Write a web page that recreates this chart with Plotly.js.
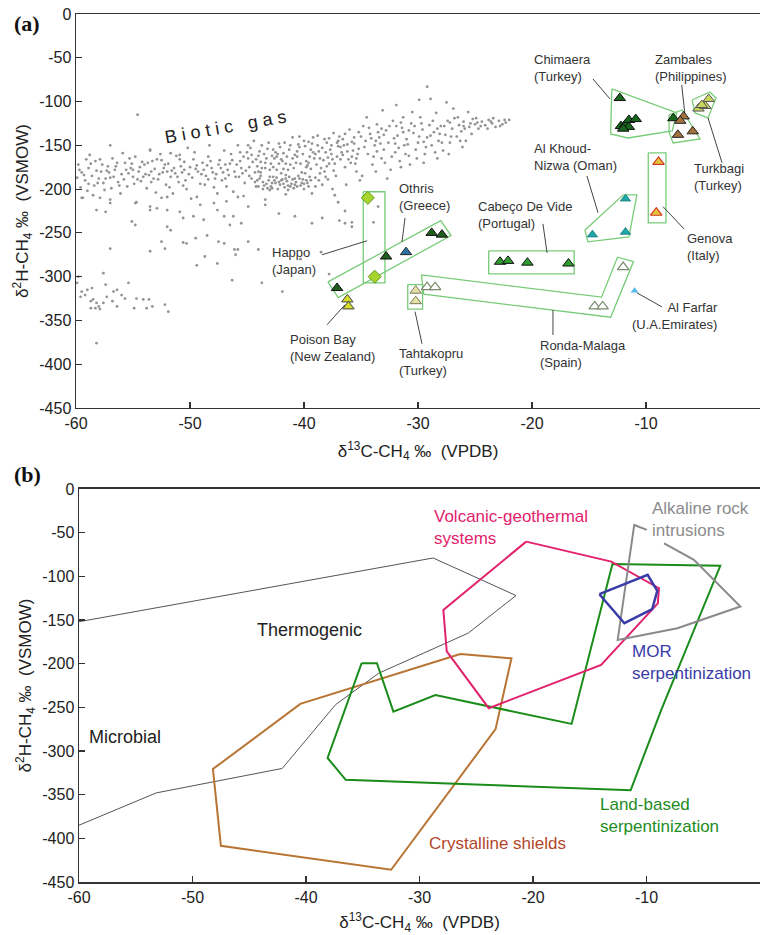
<!DOCTYPE html>
<html><head><meta charset="utf-8">
<script src="https://cdn.plot.ly/plotly-3.0.1.min.js"></script>
<style>html,body{margin:0;padding:0;background:#fff}#chart{width:760px;height:935px}</style>
</head><body><div id="chart"></div>
<script>
// ---------- Panel (a) data : biotic gas cloud (δ13C, δ2H) ----------
const bioticPts = [
[-59.8,-172],[-59.5,-181],[-59.2,-190],[-59.6,-198],[-58.9,-176],[-58.6,-185],[-58.3,-168],[-58.1,-193],[-57.8,-180],[-57.5,-201],[-57.2,-174],[-57.0,-187],[-56.8,-165],[-56.6,-178],[-56.3,-192],[-56.0,-183],[-55.7,-170],[-55.5,-197],[-55.2,-176],[-55.0,-186],[-54.8,-163],[-54.5,-180],[-54.3,-191],[-54.0,-172],[-53.8,-199],[-53.6,-184],[-53.3,-168],[-53.1,-177],[-52.8,-189],[-52.6,-160],[-52.4,-181],[-52.1,-195],[-51.9,-171],[-51.7,-186],[-51.4,-176],[-51.2,-162],[-51.0,-192],[-50.7,-181],[-50.5,-169],[-50.3,-200],[-50.0,-175],[-49.8,-187],[-49.6,-158],[-49.3,-180],[-49.1,-194],[-48.9,-170],[-48.6,-185],[-48.4,-163],[-48.1,-176],[-47.9,-198],[-47.7,-183],[-47.4,-167],[-47.2,-190],[-47.0,-156],[-46.7,-178],[-46.5,-171],[-46.2,-203],[-46.0,-186],
[-59.0,-202],[-58.5,-207],[-57.4,-188],[-56.1,-205],[-55.4,-182],[-54.1,-186],[-53.0,-204],[-52.2,-172],[-51.5,-205],[-50.9,-166],[-49.9,-211],[-48.8,-178],[-47.6,-205],[-46.9,-188],[-46.4,-160],[-58.8,-161],[-55.9,-159],[-53.5,-155],[-50.2,-153],[-48.3,-150],[-59.4,-210],[-57.0,-212],[-54.7,-215],[-52.5,-210],
[-54.6,-115],[-57.0,-150],[-53.5,-156],[-51.7,-159],[-50.9,-161],
[-59.3,-184],[-58.7,-171],[-58.4,-196],[-57.9,-166],[-57.6,-193],[-57.1,-181],[-56.9,-199],[-56.4,-170],[-55.8,-189],[-55.3,-165],[-54.9,-194],[-54.4,-175],[-53.9,-183],[-53.4,-192],[-52.9,-166],[-52.7,-183],[-52.3,-176],[-51.8,-198],[-51.3,-182],[-50.8,-174],[-50.4,-190],[-49.7,-166],[-49.4,-173],[-48.7,-195],[-48.2,-168],[-47.8,-188],[-47.3,-176],[-46.8,-197],[-46.3,-167],[-46.1,-180],[-59.1,-166],[-58.0,-188],[-56.7,-186],[-55.6,-178],[-54.2,-169],[-53.2,-188],[-52.0,-180],[-50.6,-196],[-49.0,-183],[-47.5,-172],[-59.7,-178],[-57.3,-179],[-55.1,-171],[-51.1,-186],[-48.0,-181],
[-59.9,-187],[-58.2,-179],[-56.5,-174],[-54.6,-189],[-52.5,-167],[-50.1,-183],[-48.5,-173],[-46.6,-184],[-57.7,-172],[-55.0,-178],[-53.7,-170],[-51.6,-179],[-49.5,-177],[-47.1,-181],[-58.9,-194],[-56.2,-196],[-53.4,-180],[-50.5,-178],[-48.4,-189],[-46.9,-172],
[-45.8,-150],[-45.6,-168],[-45.4,-182],[-45.2,-193],[-45.0,-158],[-44.8,-175],[-44.6,-188],[-44.4,-145],[-44.2,-197],[-44.0,-162],[-43.8,-181],[-43.6,-192],[-43.4,-170],[-43.2,-154],[-43.0,-186],[-42.8,-199],[-42.6,-165],[-42.4,-178],[-42.2,-148],[-42.0,-190],[-41.8,-159],[-41.6,-184],[-41.4,-196],[-41.2,-172],[-41.0,-141],[-40.8,-188],[-40.6,-163],[-40.4,-152],[-40.2,-181],[-40.0,-194],[-39.8,-168],[-39.6,-146],[-39.4,-177],[-39.2,-158],[-39.0,-187],[-38.8,-139],[-38.6,-165],[-38.4,-153],[-38.2,-180],[-38.0,-147],[-37.8,-171],[-37.6,-160],[-37.4,-136],[-37.2,-185],[-37.0,-151],[-36.8,-166],[-36.6,-143],[-36.4,-175],[-36.2,-157],[-36.0,-132],[-35.8,-163],[-35.6,-148],[-35.4,-180],[-35.2,-154],[-35.0,-140],
[-45.5,-176],[-44.9,-165],[-44.1,-174],[-43.5,-160],[-42.9,-171],[-42.5,-158],[-41.9,-168],[-41.3,-155],[-40.7,-170],[-40.1,-160],[-39.5,-163],[-38.9,-172],[-38.3,-167],[-37.7,-155],[-37.1,-163],[-36.5,-150],[-35.9,-170],[-35.3,-160],[-43.7,-150],[-41.7,-147],[-39.9,-151],[-38.1,-158],[-36.9,-140],
[-45.9,-172],[-45.7,-186],[-45.3,-163],[-45.1,-179],[-44.7,-153],[-44.5,-169],[-44.3,-181],[-43.9,-157],[-43.7,-176],[-43.3,-165],[-43.1,-147],[-42.7,-175],[-42.4,-163],[-42.1,-152],[-41.8,-177],[-41.5,-163],[-41.2,-150],[-40.9,-176],[-40.6,-157],[-40.3,-171],[-40.0,-145],[-39.7,-173],[-39.4,-155],[-39.1,-165],[-38.8,-150],[-38.5,-176],[-38.2,-143],[-37.9,-164],[-37.6,-150],[-37.3,-171],[-37.0,-145],[-36.7,-158],[-36.4,-137],[-36.1,-166],[-35.8,-146],[-35.5,-171],[-35.2,-135],[-44.6,-161],[-42.2,-171],[-39.2,-141],[-37.4,-179],[-36.2,-149],[-41.0,-165],[-38.6,-182],[-43.0,-178],[-35.7,-156],[-40.4,-140],[-42.7,-155],[-44.8,-185],[-39.8,-175],[-37.8,-142],
[-45.6,-158],[-44.2,-166],[-43.4,-176],[-42.3,-160],[-41.6,-171],[-40.5,-149],[-39.6,-170],[-38.7,-157],[-37.5,-166],[-36.6,-161],[-35.6,-141],[-44.9,-150],[-43.8,-169],[-42.0,-166],[-40.8,-161],[-39.3,-148],[-38.0,-174],[-36.8,-152],[-35.4,-165],[-41.4,-178],[-44.0,-180],[-37.1,-147],[-39.0,-160],[-42.8,-162],
[-44.3,-192],[-44.0,-197],[-43.9,-188],[-43.6,-200],[-43.3,-194],[-43.1,-190],[-42.9,-197],[-42.7,-186],[-42.5,-193],[-42.3,-200],[-42.1,-195],[-41.9,-189],[-41.7,-198],[-41.5,-191],[-41.3,-186],[-41.1,-194],[-40.9,-199],[-40.7,-192],[-40.5,-185],[-40.3,-196],[-40.1,-189],[-39.9,-182],[-39.7,-193],[-39.5,-186],[-43.8,-185],[-42.0,-182],[-40.0,-200],[-38.7,-190],[-38.4,-195],[-37.9,-189],
[-43.5,-196],[-42.6,-190],[-41.8,-194],[-41.0,-189],[-40.2,-193],[-39.4,-190],[-43.0,-201],[-41.4,-201],[-42.4,-187],[-40.6,-197],[-39.0,-197],[-38.1,-186],
[-44.1,-190],[-43.2,-199],[-42.2,-192],[-41.2,-197],[-40.4,-188],[-39.6,-197],[-42.8,-193],[-41.6,-188],[-40.8,-195],[-39.8,-190],
[-45.3,-208],[-43.4,-212],[-41.6,-206],[-39.3,-205],[-37.5,-200],[-36.3,-195],[-35.1,-190],
[-34.8,-128],[-34.6,-145],[-34.4,-160],[-34.2,-137],[-34.0,-172],[-33.8,-150],[-33.6,-126],[-33.4,-141],[-33.2,-165],[-33.0,-155],[-32.8,-133],[-32.6,-147],[-32.4,-178],[-32.2,-122],[-32.0,-158],[-31.8,-139],[-31.6,-168],[-31.4,-130],[-31.2,-150],[-31.0,-143],[-30.8,-162],[-30.6,-125],[-30.4,-136],[-30.2,-155],[-30.0,-147],[-29.8,-118],[-29.6,-132],[-29.4,-160],[-29.2,-141],[-29.0,-127],[-28.8,-150],[-28.6,-135],[-28.4,-113],[-28.2,-145],[-28.0,-128],[-27.8,-156],[-27.6,-138],[-27.4,-122],[-27.2,-147],[-27.0,-131],[-26.8,-119],[-26.6,-140],[-26.4,-127],[-26.2,-134],[-26.0,-123],[-25.8,-145],[-25.5,-129],[-25.2,-120],[-25.0,-126],[-24.7,-131],[-24.4,-123],[-24.1,-127],[-23.8,-121],[-23.5,-125],[-23.2,-129],[-22.9,-122],[-22.6,-126],[-22.3,-124],[-22.0,-121],
[-34.7,-152],[-34.3,-130],[-33.9,-163],[-33.5,-135],[-33.3,-148],[-32.9,-170],[-32.5,-128],[-32.1,-142],[-31.7,-153],[-31.3,-135],[-30.9,-149],[-30.3,-128],[-29.9,-140],[-29.3,-152],[-28.7,-122],[-28.1,-137],[-27.7,-128],[-27.1,-140],[-26.5,-118],[-26.3,-145],[-25.9,-131],[-25.3,-137],[-24.9,-119],[-24.5,-128],[-23.9,-131],[-23.4,-119],[-22.8,-128],[-22.4,-121],[-33.6,-157],[-31.1,-160],[-28.5,-158],[-30.1,-165],[-32.3,-163],[-27.9,-147],[-29.7,-125],[-31.5,-124],[-33.0,-138],
[-34.1,-142],[-33.2,-131],[-32.0,-148],[-30.8,-133],[-29.5,-146],[-28.3,-131],[-27.2,-124],[-26.0,-128],[-24.8,-124],[-23.6,-123],[-25.4,-125],[-28.9,-139],[-31.9,-128],[-33.7,-145],
[-34.5,-118],[-33.1,-110],[-31.9,-104],[-30.5,-112],[-29.2,-83],[-28.9,-97],[-27.5,-101],[-26.9,-108],[-25.6,-112],[-29.9,-98],[-31.3,-118],[-34.9,-185],[-33.7,-180],[-32.7,-188],[-31.5,-175],[-30.7,-172],[-29.5,-170],[-28.3,-165],[-27.3,-160],[-26.1,-152],
[-37.0,-215],[-36.4,-225],[-35.8,-238],[-36.9,-236],[-33.5,-220],[-33.9,-238],
[-58.2,-224],[-57.4,-226],[-55.1,-237],[-54.8,-241],[-53.5,-224],[-52.9,-222],[-52.0,-224],[-50.9,-226],[-52.0,-243],[-51.7,-247],[-50.6,-233],[-49.7,-231],[-48.8,-235],[-47.6,-224],[-47.0,-231],[-46.5,-241],[-46.2,-231],[-52.5,-260],[-52.2,-268],[-50.6,-261],[-50.3,-262],[-49.5,-256],[-48.5,-253],[-47.5,-260],[-47.0,-262],[-46.1,-269],[-46.0,-275],[-53.5,-271],[-57.0,-268],[-49.4,-287],[-47.6,-285],[-48.7,-277],[-46.3,-304],
[-59.5,-210],[-57.9,-210],[-57.0,-216],[-54.8,-216],[-53.5,-220],[-52.0,-209],[-49.4,-209],[-49.1,-218],[-47.9,-216],[-46.8,-214],
[-45.8,-209],[-44.9,-220],[-43.4,-218],[-42.2,-228],[-40.8,-231],[-39.3,-239],[-38.4,-233],[-36.4,-239],[-35.8,-243],[-37.3,-207],[-45.5,-239],[-44.9,-260],[-44.0,-269],[-45.8,-269],[-43.7,-307],[-41.9,-317],[-40.3,-280],[-38.5,-272],[-37.8,-297],
[-57.6,-296],[-59.9,-307],[-59.5,-317],[-59.0,-315],[-58.6,-313],[-59.2,-321],[-58.7,-328],[-58.5,-326],[-58.2,-330],[-58.3,-336],[-58.0,-334],[-57.6,-330],[-57.4,-309],[-56.7,-317],[-57.3,-323],[-56.8,-328],[-56.4,-315],[-56.0,-321],[-55.4,-307],[-55.7,-325],[-54.7,-325],[-53.6,-326],[-54.9,-336],[-53.8,-336],[-53.3,-334],[-52.2,-332],[-51.9,-340],[-59.6,-323],[-58.7,-336],[-57.9,-337],[-54.1,-326],[-56.4,-334],[-59.8,-300],
[-58.2,-376]
];
const bioticC = bioticPts.map(p => p[0]);
const bioticH = bioticPts.map(p => p[1]);

// ---------- Panel (a) data : abiotic sites ----------
const chimaeraC = [-12.3, -12.2, -11.8, -11.5, -11.5, -10.9, -12.0, -7.6];
const chimaeraH = [-96, -128, -126, -129, -121, -120, -131, -119];
const zambalesC = [-6.7, -7.0, -7.2, -5.9];
const zambalesH = [-117, -122, -138, -134];
const turkbagiC = [-5.4, -4.8, -4.5, -5.1];
const turkbagiH = [-108, -105, -97, -104];
const alkhoudC = [-11.8, -14.7, -11.8];
const alkhoudH = [-211, -252, -249];
const genovaC = [-8.9, -9.1];
const genovaH = [-169, -227];
const alfarfarC = [-11.0];
const alfarfarH = [-316];
const cabecoC = [-22.8, -22.1, -20.4, -16.8];
const cabecoH = [-283, -282, -284, -285];
const rondaC = [-29.2, -28.5, -14.5, -13.8, -12.0];
const rondaH = [-312, -312, -334, -334, -289];
const tahtaC = [-30.2, -30.2];
const tahtaH = [-316, -328];
const othrisGreenC = [-32.8, -28.8, -27.9, -37.1];
const othrisGreenH = [-277, -250, -252, -313];
const othrisBlueC = [-31.05];
const othrisBlueH = [-272];
const happoC = [-34.4, -33.8];
const happoH = [-210, -300];
const poisonC = [-36.2, -36.1];
const poisonH = [-326, -334];

// outlines around site groups (vertices in δ13C, δ2H)
const siteBoxes = [
  [[-34.8,-203],[-32.9,-203],[-32.9,-307],[-34.8,-307]],
  [[-37.9,-306],[-37.0,-324],[-27.1,-253],[-28.0,-236]],
  [[-30.9,-309],[-29.6,-309],[-29.6,-337],[-30.9,-337]],
  [[-29.7,-298],[-13.9,-323.4],[-12.5,-277.8],[-11.1,-282.8],[-13.1,-346.3],[-29.5,-320]],
  [[-23.8,-270.6],[-16.3,-270.6],[-16.3,-296.8],[-23.8,-296.8]],
  [[-12.0,-206.6],[-10.8,-206.6],[-11.5,-254.6],[-15.1,-260.3],[-15.35,-246.6]],
  [[-9.8,-158.7],[-8.25,-158.7],[-8.25,-238.6],[-9.8,-238.6]],
  [[-13.0,-85.6],[-7.3,-113],[-7.7,-133.6],[-11.6,-141.6],[-13.1,-137]],
  [[-7.98,-115.3],[-6.84,-109.6],[-5.26,-142.7],[-7.63,-147.3],[-7.98,-134.7]],
  [[-5.96,-98.2],[-4.39,-89],[-3.86,-95.9],[-4.56,-118.7],[-5.7,-113]]
];
const leaderLines = [
  [[-14.65,-74.2],[-13.16,-97]],
  [[-6.87,-81],[-6.58,-115]],
  [[-4.56,-118.7],[-3.33,-170]],
  [[-15.18,-185],[-14.21,-227]],
  [[-8.51,-220],[-6.67,-245.4]],
  [[-10.79,-318.5],[-8.6,-334.5]],
  [[-18.16,-338],[-18.16,-366.5]],
  [[-19.04,-239.7],[-18.68,-272.8]],
  [[-30.26,-340],[-29.65,-376.7]],
  [[-31.14,-232.9],[-31.4,-260.3]],
  [[-38.42,-275],[-34.47,-259]],
  [[-37.98,-355],[-36.4,-332]]
];
const siteLabels = [
  {t:'Chimaera<br>(Turkey)', x:-20.0, y:-61.6},
  {t:'Zambales<br>(Philippines)', x:-9.39, y:-61.6},
  {t:'Turkbagi<br>(Turkey)', x:-5.96, y:-186},
  {t:'Al Khoud-<br>Nizwa (Oman)', x:-20.0, y:-163},
  {t:'Genova<br>(Italy)', x:-6.58, y:-266},
  {t:'Al Farfar<br>(U.A.Emirates)', x:-3.51, y:-345, right:true},
  {t:'Ronda-Malaga<br>(Spain)', x:-19.47, y:-388},
  {t:'Cabeço De Vide<br>(Portugal)', x:-24.9, y:-229.5},
  {t:'Tahtakopru<br>(Turkey)', x:-31.84, y:-397},
  {t:'Othris<br>(Greece)', x:-31.84, y:-209},
  {t:'Happo<br>(Japan)', x:-42.98, y:-282},
  {t:'Poison Bay<br>(New Zealand)', x:-41.4, y:-381}
];

// ---------- Panel (b) data : fields ----------
const thermoMicrobialLine = [[-60,-152],[-28.8,-79],[-21.5,-122],[-25.7,-165],[-33.6,-211],[-37.4,-247],[-42.1,-320],[-53.2,-348],[-60,-385]];
const crystallineField = [[-26.4,-189],[-21.9,-194],[-23.3,-275],[-32.5,-436],[-47.5,-408.5],[-48.2,-320.7],[-40.5,-246]];
const landBasedField = [[-35.1,-199.5],[-33.75,-199.5],[-32.3,-255],[-28.6,-236],[-16.6,-269],[-13.0,-86],[-3.5,-88],[-8.7,-253],[-11.4,-345],[-36.5,-333],[-38.1,-308]];
const volcanicField = [[-20.6,-60.3],[-13.1,-83.2],[-8.9,-113.6],[-9.0,-131],[-14.0,-201.4],[-23.9,-251],[-27.6,-186],[-27.9,-138.5]];
const morField = [[-14.15,-120.5],[-9.9,-98.4],[-9.05,-116.7],[-9.5,-137.7],[-11.95,-153.7]];
const alkalineField = [[-9.97,-46.9],[-11.08,-41.2],[-12.54,-172.8],[-7.28,-159.4],[-1.73,-134.6],[-5.82,-81.2],[-8.45,-62.2]];

const xTicks = [-60,-50,-40,-30,-20,-10,0];
const xTickLabels = ['-60','-50','-40','-30','-20','-10','0'];
const yTicks = [0,-50,-100,-150,-200,-250,-300,-350,-400,-450];
const yTickLabels = ['0','-50','-100','-150','-200','-250','-300','-350','-400','-450'];

// ---------- build traces ----------
const traces = [];
const F = 'Arial, "Liberation Sans", Helvetica, sans-serif';

function polyTrace(pts, closed, color, width, xa, ya) {
  const p = closed ? pts.concat([pts[0]]) : pts;
  return {type:'scatter', mode:'lines', x:p.map(v=>v[0]), y:p.map(v=>v[1]),
    xaxis:xa, yaxis:ya, line:{color:color, width:width}, hoverinfo:'skip', showlegend:false};
}
function markerTrace(xs, ys, sym, size, fill, edge, ew) {
  return {type:'scatter', mode:'markers', x:xs, y:ys, xaxis:'x', yaxis:'y', showlegend:false,
    marker:{symbol:sym, size:size, color:fill, line:{color:edge, width:ew}}};
}

traces.push({type:'scatter', mode:'markers', x:bioticC, y:bioticH, xaxis:'x', yaxis:'y', showlegend:false,
  marker:{size:2.8, color:'#939393'}});

siteBoxes.forEach(b => traces.push(polyTrace(b, true, '#78cc78', 1.3, 'x', 'y')));
leaderLines.forEach(l => traces.push(polyTrace(l, false, '#444', 1, 'x', 'y')));

traces.push(markerTrace(chimaeraC, chimaeraH, 'triangle-up', 10, '#17661c', '#111', 1));
traces.push(markerTrace(zambalesC, zambalesH, 'triangle-up', 10, '#a3733c', '#222', 1));
traces.push(markerTrace(turkbagiC, turkbagiH, 'triangle-up', 10, '#c8d65c', '#555', 1));
traces.push(markerTrace(alkhoudC, alkhoudH, 'triangle-up', 9, '#1fa6a6', '#1a7a7a', 0.8));
traces.push(markerTrace(genovaC, genovaH, 'triangle-up', 10, '#e3c43c', '#d2381e', 1.2));
traces.push(markerTrace(alfarfarC, alfarfarH, 'triangle-up', 7, '#5ab8ea', '#5ab8ea', 0));
traces.push(markerTrace(cabecoC, cabecoH, 'triangle-up', 10, '#2e9c2e', '#111', 1));
traces.push(markerTrace(rondaC, rondaH, 'triangle-up', 10, '#ffffff', '#7a8a6c', 1.2));
traces.push(markerTrace(tahtaC, tahtaH, 'triangle-up', 10, '#e6e2a6', '#777a5a', 1));
traces.push(markerTrace(othrisGreenC, othrisGreenH, 'triangle-up', 10, '#1d5e1d', '#111', 1));
traces.push(markerTrace(othrisBlueC, othrisBlueH, 'triangle-up', 10, '#2a72a6', '#222', 1));
traces.push(markerTrace(happoC, happoH, 'diamond', 10, '#a8d42e', '#5e9a1a', 1));
traces.push(markerTrace(poisonC, poisonH, 'triangle-up', 10, '#d6de2a', '#444', 1));

traces.push(polyTrace(thermoMicrobialLine, false, '#555', 1, 'x2', 'y2'));
traces.push(polyTrace(crystallineField, true, '#b87433', 2, 'x2', 'y2'));
traces.push(polyTrace(landBasedField, true, '#1a8c1a', 2, 'x2', 'y2'));
traces.push(polyTrace(volcanicField, true, '#e2226c', 2, 'x2', 'y2'));
traces.push(polyTrace(alkalineField, false, '#8a8a8a', 2, 'x2', 'y2'));
traces.push(polyTrace(morField, true, '#3a3aa8', 2.5, 'x2', 'y2'));

// ---------- annotations ----------
const ann = [];
siteLabels.forEach(s => ann.push({xref:'x', yref:'y', x:s.x, y:s.y, text:s.t, showarrow:false,
  xanchor: s.right ? 'right' : 'left', align: s.right ? 'right' : 'left', yanchor:'middle',
  font:{family:F, size:13, color:'#333'}}));
ann.push({xref:'x', yref:'y', x:-46.9, y:-129, text:'B i o t i c   g a s', showarrow:false, textangle:-10,
  font:{family:F, size:18, color:'#222'}});
const fieldLabels = [
  {t:'Volcanic-geothermal<br>systems', x:-28.9, y:-44.6, c:'#e2226c', s:17},
  {t:'Alkaline rock<br>intrusions', x:-9.7, y:-35.5, c:'#8c8c8c', s:17},
  {t:'MOR<br>serpentinization', x:-11.45, y:-199, c:'#3a3aa8', s:17},
  {t:'Land-based<br>serpentinization', x:-14.3, y:-374, c:'#1e8c1e', s:17},
  {t:'Crystalline shields', x:-29.3, y:-406, c:'#b3472c', s:17},
  {t:'Thermogenic', x:-44.5, y:-161, c:'#222', s:18},
  {t:'Microbial', x:-59.3, y:-284, c:'#222', s:18}
];
fieldLabels.forEach(s => ann.push({xref:'x2', yref:'y2', x:s.x, y:s.y, text:s.t, showarrow:false,
  xanchor:'left', align:'left', yanchor:'middle', font:{family:F, size:s.s, color:s.c}}));
ann.push({xref:'paper', yref:'paper', x:-0.094, y:0.989, xanchor:'left', yanchor:'middle', text:'<b>(a)</b>',
  showarrow:false, font:{family:'"Liberation Serif", "DejaVu Serif", serif', size:22, color:'#111'}});
ann.push({xref:'paper', yref:'paper', x:-0.094, y:0.470, xanchor:'left', yanchor:'middle', text:'<b>(b)</b>',
  showarrow:false, font:{family:'"Liberation Serif", "DejaVu Serif", serif', size:22, color:'#111'}});

const axBase = {showgrid:false, zeroline:false, showline:true, mirror:true, linecolor:'#333', linewidth:1.5,
  ticks:'inside', ticklen:6, tickwidth:1.2, tickcolor:'#333', tickfont:{family:F, size:16, color:'#222'}};
const xTitle = 'δ<sup>13</sup>C-CH<sub>4</sub> ‰  (VPDB)';
const yTitle = 'δ<sup>2</sup>H-CH<sub>4</sub> ‰  (VSMOW)';

const layout = {
  width:760, height:935, paper_bgcolor:'#fff', plot_bgcolor:'#fff',
  margin:{l:76, r:0, t:14, b:53}, showlegend:false,
  xaxis: Object.assign({}, axBase, {domain:[0,1], anchor:'y', range:[-60,0], tickvals:xTicks, ticktext:xTickLabels,
    title:{text:xTitle, font:{family:F, size:17, color:'#222'}, standoff:14}}),
  yaxis: Object.assign({}, axBase, {domain:[0.5461,1], anchor:'x', range:[-450,0], tickvals:yTicks, ticktext:yTickLabels,
    title:{text:yTitle, font:{family:F, size:17, color:'#222'}, standoff:6}}),
  xaxis2: Object.assign({}, axBase, {domain:[0.0044,1], anchor:'y2', range:[-60,0], tickvals:xTicks, ticktext:xTickLabels,
    title:{text:xTitle, font:{family:F, size:17, color:'#222'}, standoff:12}}),
  yaxis2: Object.assign({}, axBase, {domain:[0,0.4528], anchor:'x2', range:[-450,0], tickvals:yTicks, ticktext:yTickLabels,
    title:{text:yTitle, font:{family:F, size:17, color:'#222'}, standoff:6}}),
  annotations: ann
};

Plotly.newPlot('chart', traces, layout, {staticPlot:true, displayModeBar:false});
</script></body></html>
